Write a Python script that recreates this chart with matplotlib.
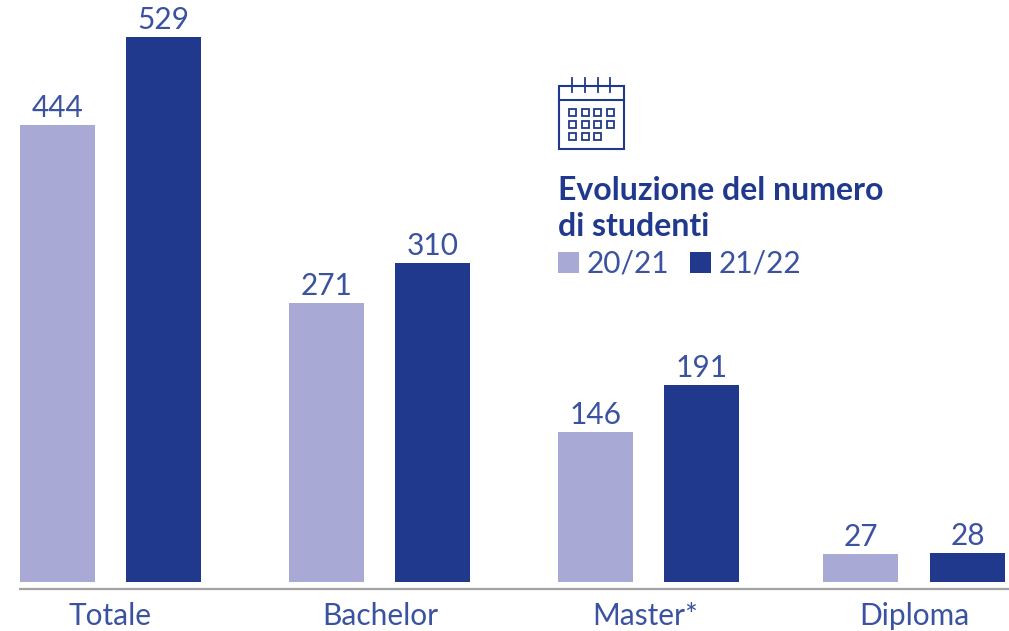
#! /usr/bin/python
import matplotlib
matplotlib.use('Agg')

from matplotlib import pyplot as plt
from matplotlib.patches import Rectangle
import numpy as np

# Chart data
categories = ['Totale', 'Bachelor', 'Master*', 'Diploma']
students_2021 = [444, 271, 146, 27]
students_2122 = [529, 310, 191, 28]
series_labels = ['20/21', '21/22']
title_lines = ['Evoluzione del numero', 'di studenti']

# Colours
light_blue = '#A9A9D5'
dark_blue = '#20398C'
text_blue = '#3A52A0'
line_grey = '#A3A3A3'

width, height = 1009, 631
baseline = 582
px_per_student = 1.03

# Bar layout in pixels
group_left = np.array([20, 289, 558, 823])
group_right = np.array([126, 395, 664, 930])
bar_width = 75
label_centre = [110, 380, 645, 914]

plt.rcParams['font.family'] = ['Lato', 'DejaVu Sans']
label_size = 21.5

fig = plt.figure(figsize=(width / 100, height / 100), dpi=100)
ax = fig.add_axes([0, 1 - baseline / height, 1, baseline / height])
ax.set_xlim(0, width)
ax.set_ylim(0, baseline / px_per_student)
ax.axis('off')

ax.bar(group_left, students_2021, width=bar_width, align='edge', color=light_blue)
ax.bar(group_right, students_2122, width=bar_width, align='edge', color=dark_blue)

for x, v in zip(group_left, students_2021):
    ax.annotate(str(v), (x + bar_width / 2, v), xytext=(0, 2), textcoords='offset points', ha='center',
                va='bottom', fontsize=label_size, color=text_blue)
for x, v in zip(group_right, students_2122):
    ax.annotate(str(v), (x + bar_width / 2, v), xytext=(0, 2), textcoords='offset points', ha='center',
                va='bottom', fontsize=label_size, color=text_blue)

# Overlay in pixel coordinates for the axis line, labels and the key
over = fig.add_axes([0, 0, 1, 1])
over.set_xlim(0, width)
over.set_ylim(height, 0)
over.axis('off')
over.patch.set_alpha(0)

over.plot([19, width], [588.5, 588.5], color=line_grey, linewidth=1.6, solid_capstyle='butt')
for x, name in zip(label_centre, categories):
    over.text(x, 625, name, ha='center', va='baseline', fontsize=label_size, color=text_blue)

# Calendar icon
over.add_patch(Rectangle((558.5, 86), 65, 63, fill=False, edgecolor=dark_blue, linewidth=1.5))
over.plot([558.5, 623.5], [100, 100], color=dark_blue, linewidth=1.5)
for x in [572, 585, 598, 610]:
    over.plot([x, x], [78, 92], color=dark_blue, linewidth=1.3)
for row, y in enumerate([112.7, 124.3, 136]):
    for col, x in enumerate([572.3, 585, 597.5, 610]):
        if row == 2 and col == 3:
            continue
        over.add_patch(Rectangle((x - 3.5, y - 3.5), 7, 7, fill=False, edgecolor=dark_blue, linewidth=1.3))

# Title and key
over.text(558, 200.5, title_lines[0], ha='left', va='baseline', fontsize=23, fontweight='bold', color=dark_blue)
over.text(558, 236.5, title_lines[1], ha='left', va='baseline', fontsize=23, fontweight='bold', color=dark_blue)
over.add_patch(Rectangle((558, 252), 20.5, 20.5, color=light_blue, linewidth=0))
over.add_patch(Rectangle((690, 252), 20.5, 20.5, color=dark_blue, linewidth=0))
over.text(587, 273, series_labels[0], ha='left', va='baseline', fontsize=label_size, color=text_blue)
over.text(719, 273, series_labels[1], ha='left', va='baseline', fontsize=label_size, color=text_blue)

fig.savefig('out.png', dpi=100)
